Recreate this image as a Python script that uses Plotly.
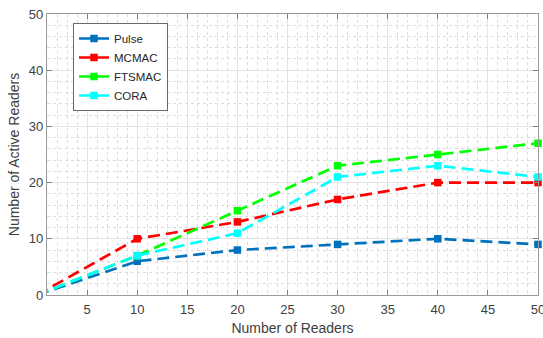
import plotly.graph_objects as go

readers = [0, 10, 20, 30, 40, 50]
series = {
    "Pulse":  [0, 6, 8, 9, 10, 9],
    "MCMAC":  [0, 10, 13, 17, 20, 20],
    "FTSMAC": [0, 7, 15, 23, 25, 27],
    "CORA":   [0, 7, 11, 21, 23, 21],
}
colors = {"Pulse": "#0072BD", "MCMAC": "#FF0000", "FTSMAC": "#00FF00", "CORA": "#00FFFF"}
x_ticks = [5, 10, 15, 20, 25, 30, 35, 40, 45, 50]
y_ticks = [0, 10, 20, 30, 40, 50]

DASH = "12px,6px"
LW = 2.7
MS = 7.5

fig = go.Figure()
for name, vals in series.items():
    c = colors[name]
    # full dashed line (clipped at axis like the original)
    fig.add_trace(go.Scatter(x=readers, y=vals, mode="lines", showlegend=False,
                             line=dict(color=c, width=LW, dash=DASH), hoverinfo="skip"))
    # markers only for points inside the axis range (not clipped)
    fig.add_trace(go.Scatter(x=readers[1:], y=vals[1:], mode="markers", showlegend=False,
                             marker=dict(symbol="square", size=MS, color=c),
                             cliponaxis=False))
    # legend entry
    fig.add_trace(go.Scatter(x=[None], y=[None], mode="lines+markers", name=name,
                             line=dict(color=c, width=LW, dash=DASH),
                             marker=dict(symbol="square", size=MS, color=c)))

FONT = "Liberation Sans, Arial"
axis_common = dict(
    showline=True, linecolor="#9a9a9a", linewidth=1.3, mirror="ticks",
    ticks="inside", ticklen=5, tickcolor="#808080",
    showgrid=True, gridcolor="#e3e3e3", gridwidth=1,
    zeroline=False, ticklabeloverflow="allow", automargin=False,
    tickfont=dict(family=FONT, size=13, color="#404040"),
)

fig.update_xaxes(range=[1, 50], tickvals=x_ticks, ticklabelstandoff=2,
                 title=dict(text="Number of Readers", standoff=7,
                            font=dict(family=FONT, size=14, color="#404040")),
                 minor=dict(dtick=1, tick0=0, showgrid=True, griddash="dot", gridcolor="#dcdcdc", ticks=""),
                 **axis_common)
fig.update_yaxes(range=[0, 50], tickvals=y_ticks,
                 title=dict(text="Number of Active Readers", standoff=5,
                            font=dict(family=FONT, size=14, color="#404040")),
                 minor=dict(dtick=2, tick0=0, showgrid=True, griddash="dot", gridcolor="#dcdcdc", ticks=""),
                 **axis_common)

fig.update_layout(
    width=543, height=338,
    margin=dict(l=47, r=5, t=14, b=43),
    paper_bgcolor="white", plot_bgcolor="white",
    legend=dict(x=0.053, y=0.968, xanchor="left", yanchor="top",
                bgcolor="white", bordercolor="#6a6a6a", borderwidth=1,
                font=dict(family=FONT, size=11.5, color="#262626"),
                tracegroupgap=0, itemwidth=30),
    showlegend=True,
)

fig.write_html("out.html")
